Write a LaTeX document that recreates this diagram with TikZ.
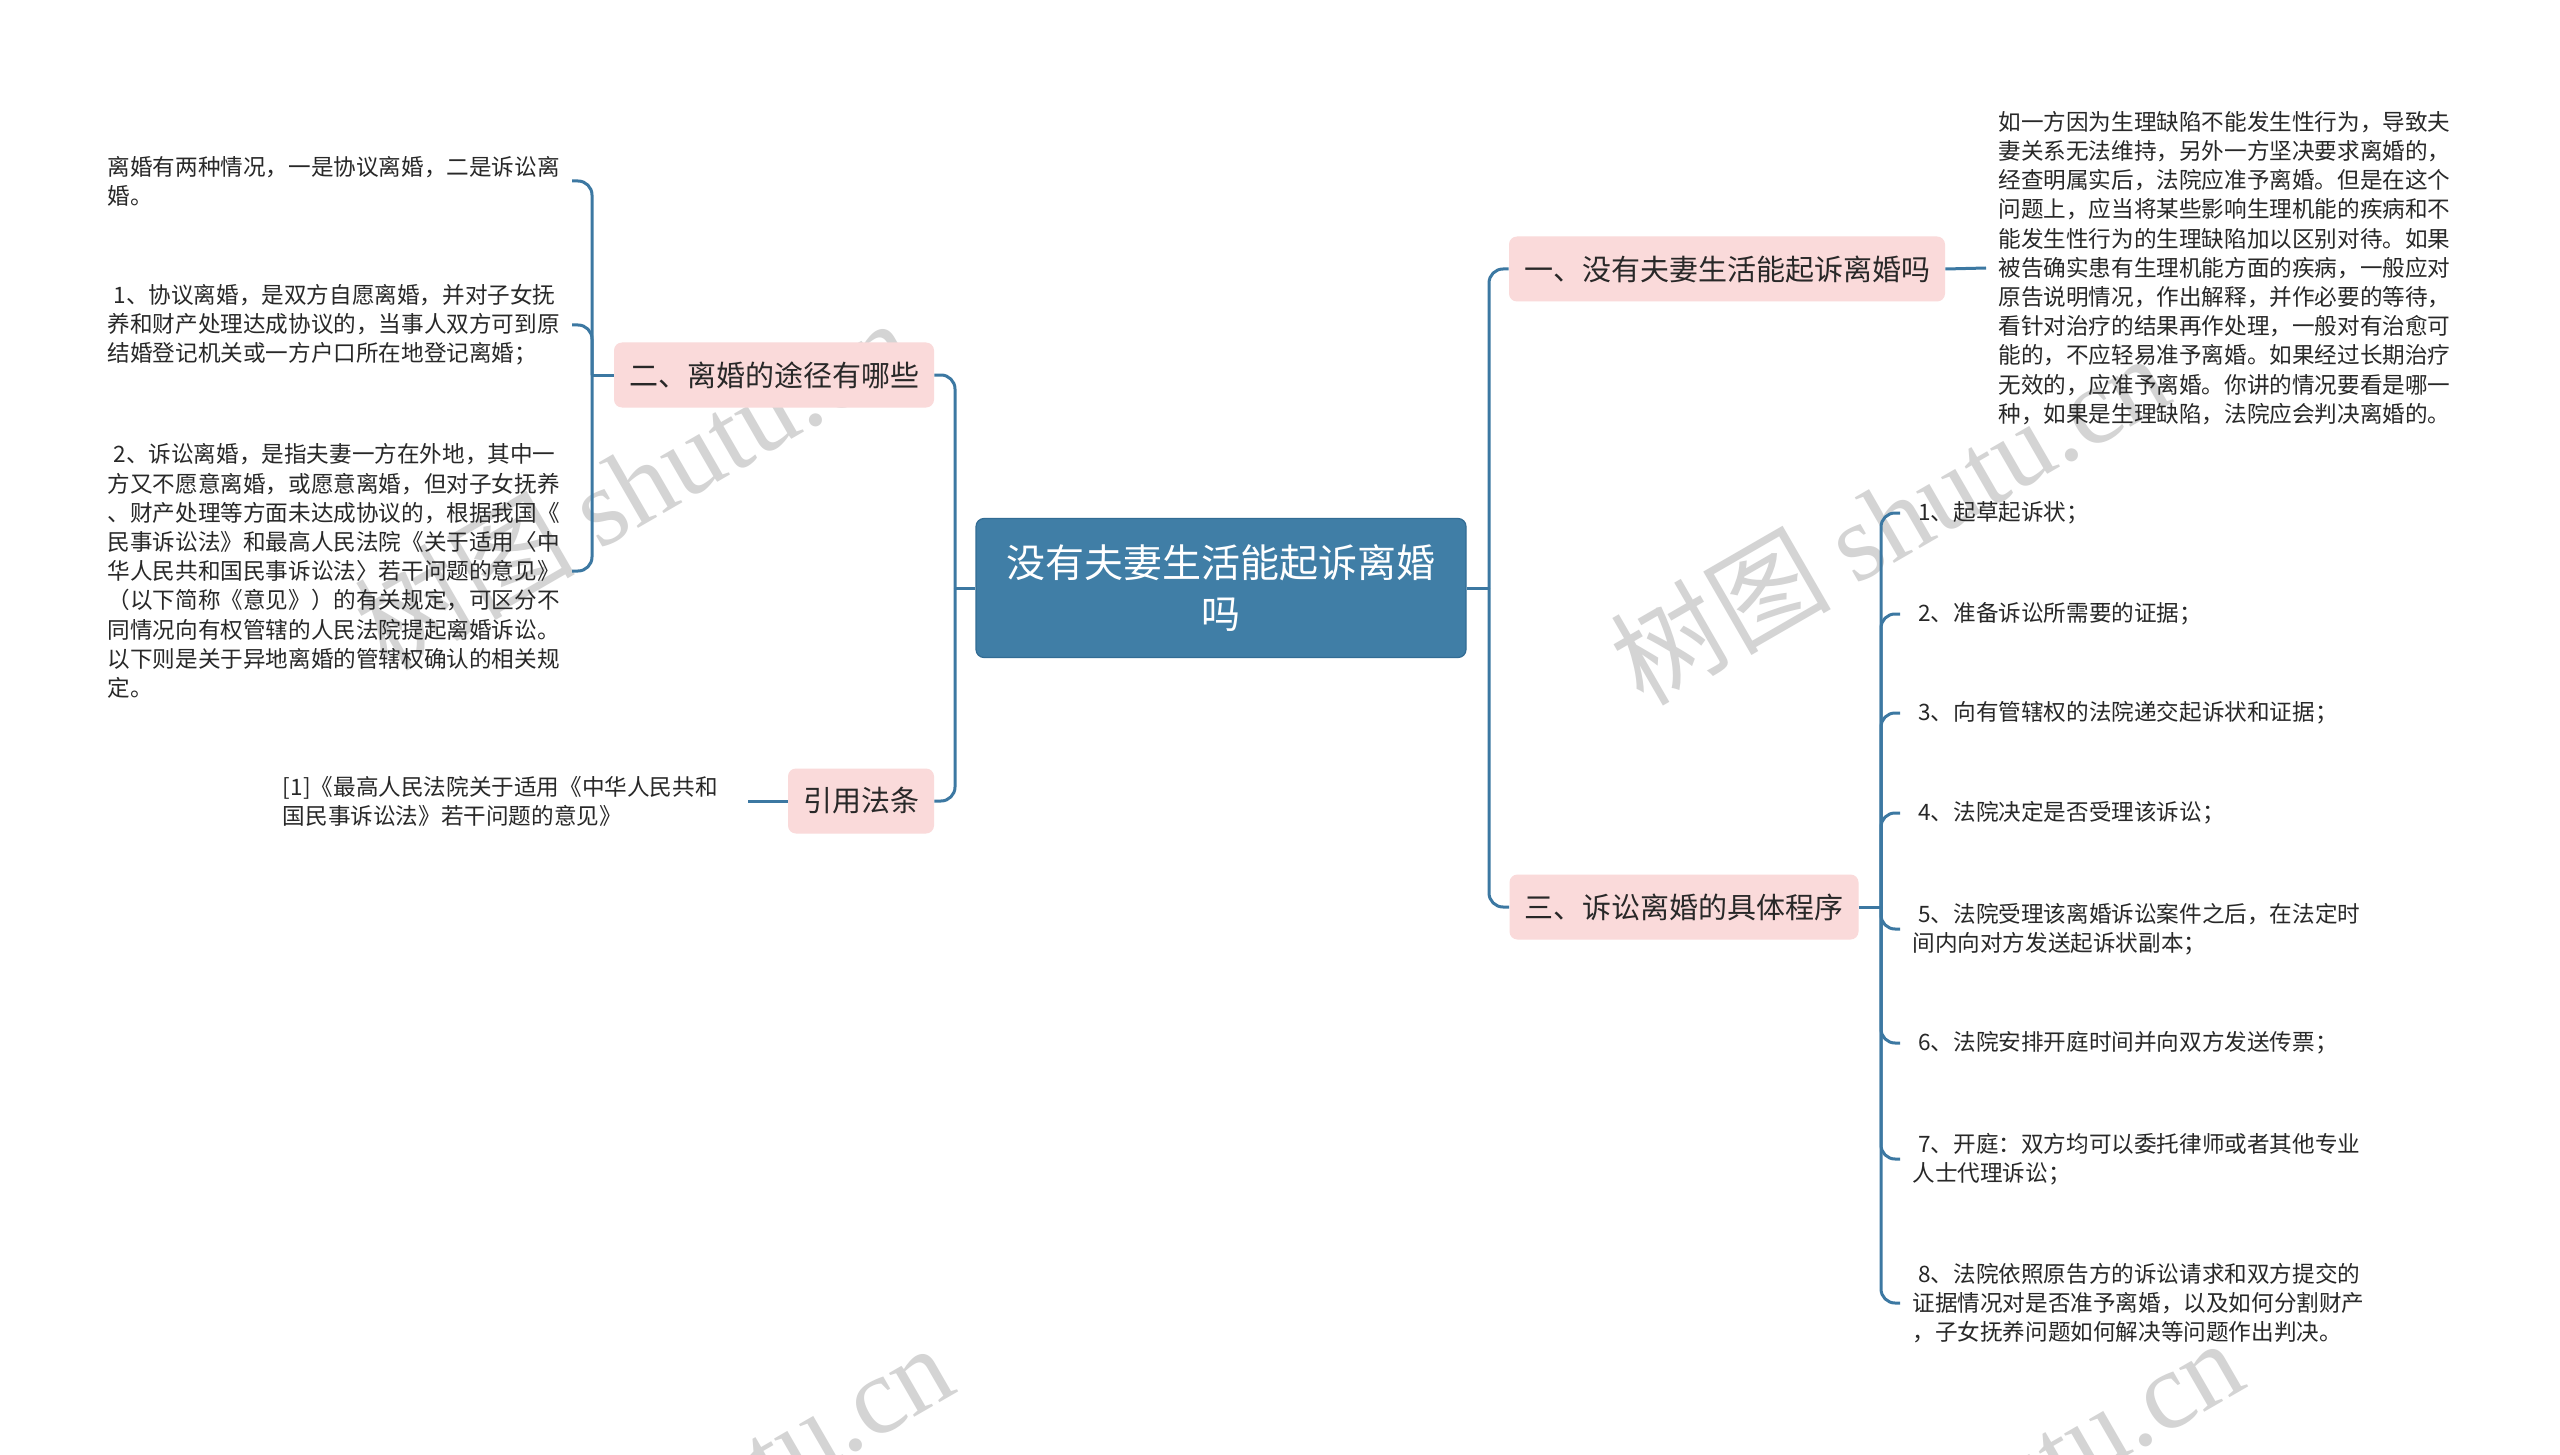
\documentclass[tikz,border=0pt]{standalone}
\usepackage{fontspec}
\setmainfont{Noto Sans CJK SC}
\newfontfamily\wmserif{Liberation Serif}
\definecolor{conncol}{RGB}{60,120,162}
\definecolor{centerfill}{RGB}{64,126,166}
\definecolor{centerdraw}{RGB}{50,108,148}
\definecolor{pinkfill}{RGB}{250,218,218}
\definecolor{textcol}{RGB}{40,40,40}
\definecolor{wmcol}{RGB}{212,212,212}
\begin{document}
\begin{tikzpicture}[x=0.5pt,y=-0.5pt,
  conn/.style={draw=conncol, line width=1.5pt, rounded corners=7pt},
  centerbox/.style={fill=centerfill, draw=centerdraw, line width=0.6pt, rounded corners=4pt,
    minimum width=245pt, minimum height=69.5pt, align=center, text=white,
    font=\fontsize{19.5}{25.5}\selectfont, inner sep=0pt},
  branch/.style={fill=pinkfill, rounded corners=4pt, minimum height=32.5pt, inner xsep=7.5pt,
    text=textcol, font=\fontsize{14.5}{18}\selectfont},
  leaf/.style={align=left, text=textcol, font=\fontsize{11.3}{14.6}\selectfont, inner xsep=6pt, inner ysep=2pt},
  wm/.style={text=wmcol, font=\fontsize{55}{60}\selectfont, rotate=30, inner sep=0pt}
]
\fill[white] (0,0) rectangle (2560,1455);
\useasboundingbox (0,0) rectangle (2560,1455);
% watermarks
\begin{scope}
\clip (0,0) rectangle (2560,1455);
\node[wm] (w1) at (633,483) {树图 {\wmserif shutu.cn}};
\node[wm] (w2) at (1889,518) {树图 {\wmserif shutu.cn}};
\node[wm] (w3) at (673,1508) {树图 {\wmserif shutu.cn}};
\node[wm] (w4) at (1963,1503) {树图 {\wmserif shutu.cn}};
\end{scope}
% main nodes
\node[centerbox] (c) at (1221,588) {没有夫妻生活能起诉离婚\\吗};
\node[branch] (b1) at (1727,269) {一、没有夫妻生活能起诉离婚吗};
\node[branch] (b2) at (774,375) {二、离婚的途径有哪些};
\node[branch] (b3) at (1684,907) {三、诉讼离婚的具体程序};
\node[branch] (b4) at (861,801) {引用法条};
% left leaves
\node[leaf, anchor=east] (a1) at (572,181) {离婚有两种情况，一是协议离婚，二是诉讼离\\婚。};
\node[leaf, anchor=east] (a2) at (572,325) {\hspace*{3pt}1、协议离婚，是双方自愿离婚，并对子女抚\\养和财产处理达成协议的，当事人双方可到原\\结婚登记机关或一方户口所在地登记离婚；};
\node[leaf, anchor=east] (a3) at (572,571) {\hspace*{3pt}2、诉讼离婚，是指夫妻一方在外地，其中一\\方又不愿意离婚，或愿意离婚，但对子女抚养\\、财产处理等方面未达成协议的，根据我国《\\民事诉讼法》和最高人民法院《关于适用〈中\\华人民共和国民事诉讼法〉若干问题的意见》\\（以下简称《意见》）的有关规定，可区分不\\同情况向有权管辖的人民法院提起离婚诉讼。\\以下则是关于异地离婚的管辖权确认的相关规\\定。};
\node[leaf, anchor=east, inner xsep=15pt] (r1) at (748,801) {[1]《最高人民法院关于适用《中华人民共和\\国民事诉讼法》若干问题的意见》};
% right leaves
\node[leaf, anchor=west] (t1) at (1986,268) {如一方因为生理缺陷不能发生性行为，导致夫\\妻关系无法维持，另外一方坚决要求离婚的，\\经查明属实后，法院应准予离婚。但是在这个\\问题上，应当将某些影响生理机能的疾病和不\\能发生性行为的生理缺陷加以区别对待。如果\\被告确实患有生理机能方面的疾病，一般应对\\原告说明情况，作出解释，并作必要的等待，\\看针对治疗的结果再作处理，一般对有治愈可\\能的，不应轻易准予离婚。如果经过长期治疗\\无效的，应准予离婚。你讲的情况要看是哪一\\种，如果是生理缺陷，法院应会判决离婚的。};
\node[leaf, anchor=west] (s1) at (1900,513) {\hspace*{3pt}1、起草起诉状；};
\node[leaf, anchor=west] (s2) at (1900,614) {\hspace*{3pt}2、准备诉讼所需要的证据；};
\node[leaf, anchor=west] (s3) at (1900,713) {\hspace*{3pt}3、向有管辖权的法院递交起诉状和证据；};
\node[leaf, anchor=west] (s4) at (1900,813) {\hspace*{3pt}4、法院决定是否受理该诉讼；};
\node[leaf, anchor=west] (s5) at (1900,929) {\hspace*{3pt}5、法院受理该离婚诉讼案件之后，在法定时\\间内向对方发送起诉状副本；};
\node[leaf, anchor=west] (s6) at (1900,1043) {\hspace*{3pt}6、法院安排开庭时间并向双方发送传票；};
\node[leaf, anchor=west] (s7) at (1900,1159) {\hspace*{3pt}7、开庭：双方均可以委托律师或者其他专业\\人士代理诉讼；};
\node[leaf, anchor=west] (s8) at (1900,1303) {\hspace*{3pt}8、法院依照原告方的诉讼请求和双方提交的\\证据情况对是否准予离婚，以及如何分割财产\\，子女抚养问题如何解决等问题作出判决。};
% junctions
\coordinate (jc) at (955,588);
\coordinate (jr) at (1489,588);
\coordinate (j2) at (592,375);
\coordinate (j3) at (1881,907);
% connectors
\draw[conn] (c.west) -- (jc);
\draw[conn] (jc) |- (b2.east);
\draw[conn] (jc) |- (b4.east);
\draw[conn] (c.east) -- (jr);
\draw[conn] (jr) |- (b1.west);
\draw[conn] (jr) |- (b3.west);
\draw[conn] (b2.west) -- (j2);
\draw[conn] (j2) |- (a1.east);
\draw[conn] (j2) |- (a2.east);
\draw[conn] (j2) |- (a3.east);
\draw[conn] (b4.west) -- (r1.east);
\draw[conn] (b1.east) -- (t1.west);
\draw[conn] (b3.east) -- (j3);
\draw[conn] (j3) |- (s1.west);
\draw[conn] (j3) |- (s2.west);
\draw[conn] (j3) |- (s3.west);
\draw[conn] (j3) |- (s4.west);
\draw[conn] (j3) |- (s5.west);
\draw[conn] (j3) |- (s6.west);
\draw[conn] (j3) |- (s7.west);
\draw[conn] (j3) |- (s8.west);
\end{tikzpicture}
\end{document}
